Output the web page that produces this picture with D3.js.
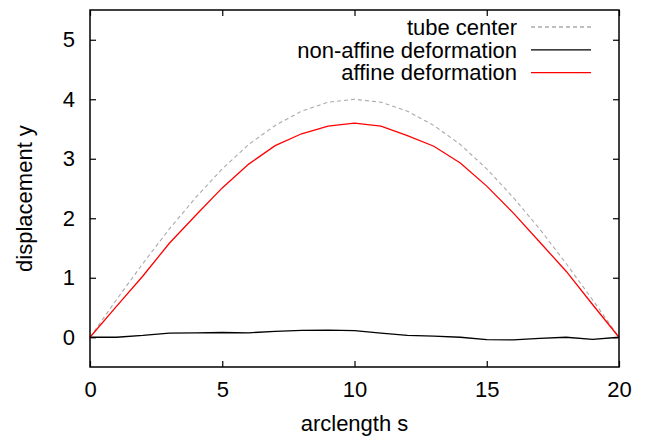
<!DOCTYPE html>
<html>
<head>
<meta charset="utf-8">
<script src="https://cdn.jsdelivr.net/npm/d3@7"></script>
<style>
  body { margin: 0; background: #fff; }
  text { font-family: "Liberation Sans", Arial, sans-serif; fill: #000; }
</style>
</head>
<body>
<div id="chart"></div>
<script>
const arclength = [0, 1, 2, 3, 4, 5, 6, 7, 8, 9, 10, 11, 12, 13, 14, 15, 16, 17, 18, 19, 20];
const tubeCenter = [0, 0.63, 1.24, 1.82, 2.35, 2.83, 3.24, 3.56, 3.80, 3.95, 4.0,
                    3.95, 3.80, 3.56, 3.24, 2.83, 2.35, 1.82, 1.24, 0.63, 0];
const nonAffine = [0, 0, 0.03, 0.07, 0.075, 0.08, 0.075, 0.1, 0.115, 0.12, 0.11,
                   0.07, 0.03, 0.02, 0.0, -0.04, -0.045, -0.02, 0.0, -0.035, 0];
const affine = [0, 0.52, 1.03, 1.58, 2.05, 2.51, 2.91, 3.22, 3.42, 3.55, 3.6,
                3.55, 3.39, 3.21, 2.93, 2.54, 2.09, 1.6, 1.11, 0.55, 0];
const xTicks = [0, 5, 10, 15, 20];
const yTicks = [0, 1, 2, 3, 4, 5];

const width = 651, height = 436;
const margin = {top: 10, right: 32, bottom: 69, left: 90};
const iw = width - margin.left - margin.right,
      ih = height - margin.top - margin.bottom;
const fontSize = "22px";

const svg = d3.select("#chart").append("svg")
    .attr("width", width)
    .attr("height", height);

const g = svg.append("g")
    .attr("transform", `translate(${margin.left},${margin.top})`);

const x = d3.scaleLinear().domain([0, 20]).range([0, iw]);
const y = d3.scaleLinear().domain([-0.5, 5.5]).range([ih, 0]);

// ticks on all four sides, pointing inward
const tickLen = 6;
g.append("g").attr("transform", `translate(0,${ih})`)
    .call(d3.axisBottom(x).tickValues(xTicks).tickSize(-tickLen).tickPadding(14).tickFormat(d3.format("d")))
    .call(a => a.select(".domain").remove())
    .selectAll("text").style("font-size", fontSize);
g.append("g")
    .call(d3.axisTop(x).tickValues(xTicks).tickSize(-tickLen).tickFormat(""))
    .call(a => a.select(".domain").remove());
g.append("g")
    .call(d3.axisLeft(y).tickValues(yTicks).tickSize(-tickLen).tickPadding(15).tickFormat(d3.format("d")))
    .call(a => a.select(".domain").remove())
    .selectAll("text").style("font-size", fontSize);
g.append("g").attr("transform", `translate(${iw},0)`)
    .call(d3.axisRight(y).tickValues(yTicks).tickSize(-tickLen).tickFormat(""))
    .call(a => a.select(".domain").remove());
g.selectAll(".tick line").attr("stroke", "#000").attr("stroke-width", 1.2);
g.selectAll(".tick text").attr("fill", "#000");

const line = vals => d3.line()
    .x((d, i) => x(arclength[i]))
    .y(d => y(d))(vals);

g.append("path").attr("d", line(tubeCenter))
    .attr("fill", "none").attr("stroke", "#aaaaaa")
    .attr("stroke-width", 1.1).attr("stroke-dasharray", "4,3");
g.append("path").attr("d", line(nonAffine))
    .attr("fill", "none").attr("stroke", "#000").attr("stroke-width", 1.3);
g.append("path").attr("d", line(affine))
    .attr("fill", "none").attr("stroke", "#ff0000").attr("stroke-width", 1.3);

// frame
g.append("rect").attr("width", iw).attr("height", ih)
    .attr("fill", "none").attr("stroke", "#000").attr("stroke-width", 1.5);

// legend
const legend = [
    {label: "tube center", color: "#aaaaaa", dash: "4,3"},
    {label: "non-affine deformation", color: "#000", dash: null},
    {label: "affine deformation", color: "#ff0000", dash: null}
];
const lg = svg.append("g").attr("transform", "translate(517,27)");
legend.forEach((d, i) => {
    const row = lg.append("g").attr("transform", `translate(0,${i * 22.8})`);
    row.append("text").attr("text-anchor", "end").attr("dy", "0.35em")
        .style("font-size", fontSize).text(d.label);
    row.append("line").attr("x1", 14).attr("x2", 74)
        .attr("stroke", d.color).attr("stroke-width", 1.3)
        .attr("stroke-dasharray", d.dash);
});

svg.append("text").attr("x", margin.left + iw / 2).attr("y", 431)
    .attr("text-anchor", "middle").style("font-size", fontSize).text("arclength s");
svg.append("text")
    .attr("transform", `translate(32,${margin.top + ih / 2 + 10}) rotate(-90)`)
    .attr("text-anchor", "middle").style("font-size", fontSize).text("displacement y");
</script>
</body>
</html>
